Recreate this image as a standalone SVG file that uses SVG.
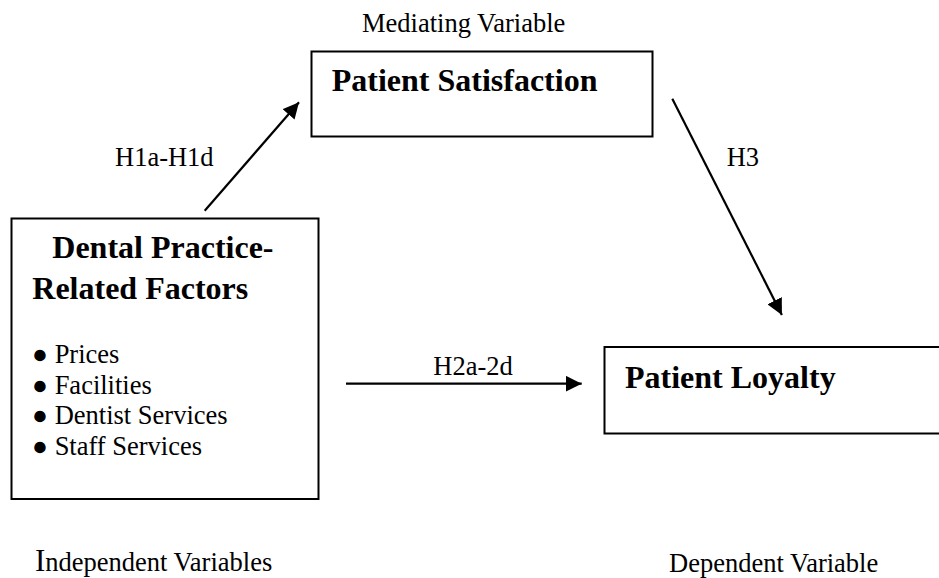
<svg xmlns="http://www.w3.org/2000/svg" width="939" height="578" viewBox="0 0 939 578">
  <defs>
    <marker id="arrow" markerUnits="userSpaceOnUse" markerWidth="16" markerHeight="16" refX="16" refY="8" orient="auto" viewBox="0 0 16 16">
      <path d="M0,0 L16,8 L0,16 z" fill="#000"/>
    </marker>
    <style>
      .box { fill: #fff; stroke: #000; stroke-width: 2; }
      .t { font-family: "Liberation Serif", "Times New Roman", "DejaVu Serif", serif; fill: #000; }
      .reg { font-size: 26.5px; }
      .bold { font-size: 32px; font-weight: bold; }
      .conn { stroke: #000; stroke-width: 2.2; fill: none; marker-end: url(#arrow); }
    </style>
  </defs>
  <rect width="939" height="578" fill="#fff"/>

  <g id="labels">
    <text class="t reg" x="362" y="31.7">Mediating Variable</text>
    <text class="t reg" x="35" y="571.3"><tspan font-size="31px">I</tspan>ndependent Variables</text>
    <text class="t reg" x="669" y="571.8">Dependent Variable</text>
  </g>

  <g id="patient-satisfaction">
    <rect class="box" x="311.5" y="51.5" width="341" height="85"/>
    <text class="t bold" x="331.7" y="90.7">Patient Satisfaction</text>
  </g>

  <g id="dental-factors">
    <rect class="box" x="11.5" y="218.5" width="307" height="280.5"/>
    <text class="t bold" x="52.3" y="257.5">Dental Practice-</text>
    <text class="t bold" x="32.3" y="299">Related Factors</text>
    <text class="t reg" x="32" y="363">● Prices</text>
    <text class="t reg" x="32" y="393.5">● Facilities</text>
    <text class="t reg" x="32" y="424">● Dentist Services</text>
    <text class="t reg" x="32" y="454.5">● Staff Services</text>
  </g>

  <g id="patient-loyalty">
    <rect class="box" x="604.5" y="347" width="400" height="86.5"/>
    <text class="t bold" x="625" y="388.3">Patient Loyalty</text>
  </g>

  <g id="connectors">
    <line class="conn" x1="204.7" y1="210.7" x2="299" y2="102.3"/>
    <line class="conn" x1="672.3" y1="98.7" x2="781.9" y2="315"/>
    <line class="conn" x1="346" y1="383.7" x2="581.7" y2="383.7"/>
    <text class="t reg" x="115" y="165.7">H1a-H1d</text>
    <text class="t reg" x="726.7" y="165.7">H3</text>
    <text class="t reg" x="433.3" y="375">H2a-2d</text>
  </g>
</svg>
